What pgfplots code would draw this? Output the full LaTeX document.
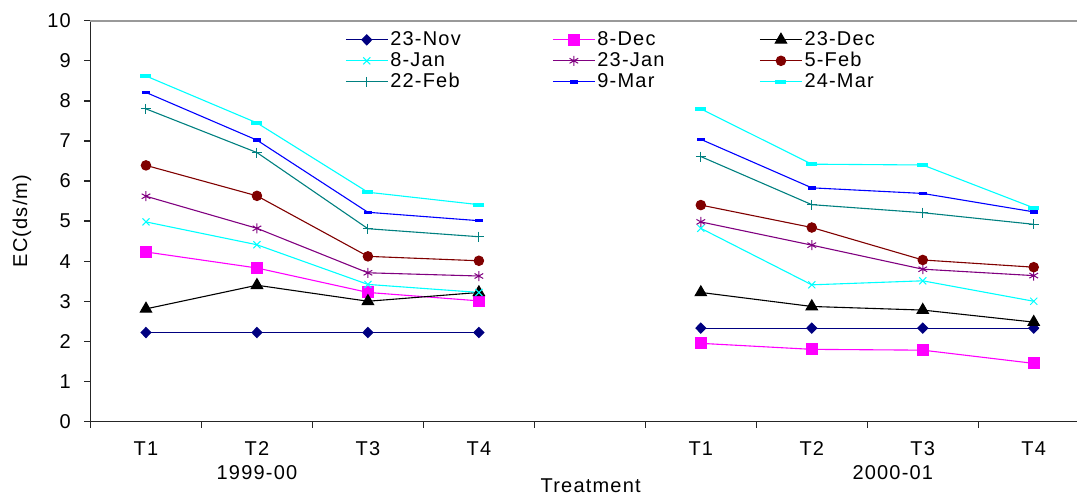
\documentclass[border=0pt]{standalone}
\usepackage{fontspec}
\setmainfont[LetterSpace=6]{Liberation Sans}
\usepackage{pgfplots}
\usepackage{pgfplotstable}
\pgfplotsset{compat=1.18}

\definecolor{cnov}{RGB}{0,0,128}
\definecolor{cdec}{RGB}{255,0,255}
\definecolor{cdecb}{RGB}{0,0,0}
\definecolor{cjan}{RGB}{0,255,255}
\definecolor{cjanb}{RGB}{128,0,128}
\definecolor{cfeb}{RGB}{128,0,0}
\definecolor{cfebb}{RGB}{0,128,128}
\definecolor{cmar}{RGB}{0,0,255}
\definecolor{cmarb}{RGB}{0,255,255}

\pgfplotstableread{
x  nov  decA  decB  janA  janB  febA  febB  marA  marB
0  2.22 4.23  2.81  4.98  5.62  6.39  7.80  8.21  8.62
1  2.22 3.83  3.40  4.41  4.82  5.63  6.71  7.02  7.45
2  2.22 3.22  3.00  3.42  3.71  4.12  4.81  5.22  5.72
3  2.22 3.01  3.22  3.22  3.63  4.01  4.61  5.01  5.41
4  nan  nan   nan   nan   nan   nan   nan   nan   nan
5  2.33 1.95  3.22  4.82  4.98  5.40  6.61  7.04  7.80
6  2.33 1.80  2.87  3.41  4.40  4.84  5.41  5.83  6.42
7  2.33 1.78  2.78  3.51  3.80  4.03  5.21  5.69  6.40
8  2.33 1.45  2.48  3.00  3.64  3.85  4.92  5.23  5.33
}\datatable

\begin{document}
\fontsize{20bp}{24bp}\selectfont
\begin{tikzpicture}
\path[use as bounding box] (-90.5bp,-74.5bp) rectangle (986.5bp,421.5bp);
\begin{axis}[
  at={(0,0)}, anchor=south west,
  scale only axis, width=986.5bp, height=400.8bp,
  xmin=-0.5, xmax=8.39, ymin=0, ymax=10,
  clip=false,
  axis x line*=bottom, axis y line*=left,
  axis line style={-, black!85, line width=1.3bp},
  every tick/.style={black!85, line width=1.3bp},
  tick align=outside, major tick length=6bp,
  ytick={0,1,...,10},
  xtick={-0.5,0.5,...,7.5}, xticklabels={},
  extra x ticks={0,1,2,3,5,6,7,8},
  extra x tick labels={T1,T2,T3,T4,T1,T2,T3,T4},
  extra x tick style={major tick length=0pt},
  xticklabel style={anchor=center, inner sep=0pt, yshift=-27.5bp},
  yticklabel style={anchor=east, inner sep=0pt, xshift=-13.5bp},
  /pgf/number format/assume math mode=true,
  unbounded coords=jump,
  ylabel={EC(ds/m)},
  ylabel style={at={(axis description cs:-0.0694,0.5)}, anchor=center, rotate=0},
  xlabel={Treatment},
  xlabel style={at={(axis description cs:0.507,0)}, anchor=center, yshift=-64.5bp},
  every axis plot/.append style={line width=1.1bp},
  legend columns=3,
  legend cell align=left,
  legend style={at={(rel axis cs:0.258,0.979)}, anchor=north west, draw=none, fill=none,
    inner sep=0pt, row sep=0pt, column sep=0pt,
    nodes={inner sep=2bp, text height=14bp, text depth=3bp}},
  legend image code/.code={\draw[mark repeat=2,mark phase=2,#1] plot coordinates {(0bp,0bp) (21bp,0bp) (42bp,0bp)};},
]
\addplot[cnov, mark=diamond*, mark size=5bp, mark options={xscale=1.3, solid}] table[x=x,y=nov] {\datatable};
\addlegendentry{\makebox[160bp][l]{23-Nov}}
\addplot[cdec, mark=square*, mark size=5.5bp, mark options={solid}] table[x=x,y=decA] {\datatable};
\addlegendentry{\makebox[160bp][l]{8-Dec}}
\addplot[cdecb, mark=triangle*, mark size=6.5bp, mark options={solid}] table[x=x,y=decB] {\datatable};
\addlegendentry{\makebox[160bp][l]{23-Dec}}
\addplot[cjan, mark=x, mark size=5bp, mark options={solid, line width=1bp}] table[x=x,y=janA] {\datatable};
\addlegendentry{\makebox[160bp][l]{8-Jan}}
\addplot[cjanb, mark=asterisk, mark size=5bp, mark options={solid, line width=1bp}] table[x=x,y=janB] {\datatable};
\addlegendentry{\makebox[160bp][l]{23-Jan}}
\addplot[cfeb, mark=*, mark size=4.7bp, mark options={solid}] table[x=x,y=febA] {\datatable};
\addlegendentry{\makebox[160bp][l]{5-Feb}}
\addplot[cfebb, mark=+, mark size=5bp, mark options={solid, line width=1bp}] table[x=x,y=febB] {\datatable};
\addlegendentry{\makebox[160bp][l]{22-Feb}}
\addplot[cmar, mark=-, mark size=4bp, mark options={solid, line width=3.5bp}] table[x=x,y=marA] {\datatable};
\addlegendentry{\makebox[160bp][l]{9-Mar}}
\addplot[cmarb, mark=-, mark size=5.5bp, mark options={solid, line width=4bp}] table[x=x,y=marB] {\datatable};
\addlegendentry{\makebox[160bp][l]{24-Mar}}
\draw[black!40, line width=2bp] (rel axis cs:0,1) -- (rel axis cs:1,1);
\node[anchor=center] at (axis cs:1,0) [yshift=-51.5bp] {1999-00};
\node[anchor=center] at (axis cs:6.73,0) [yshift=-51.5bp] {2000-01};
\end{axis}
\end{tikzpicture}
\end{document}
